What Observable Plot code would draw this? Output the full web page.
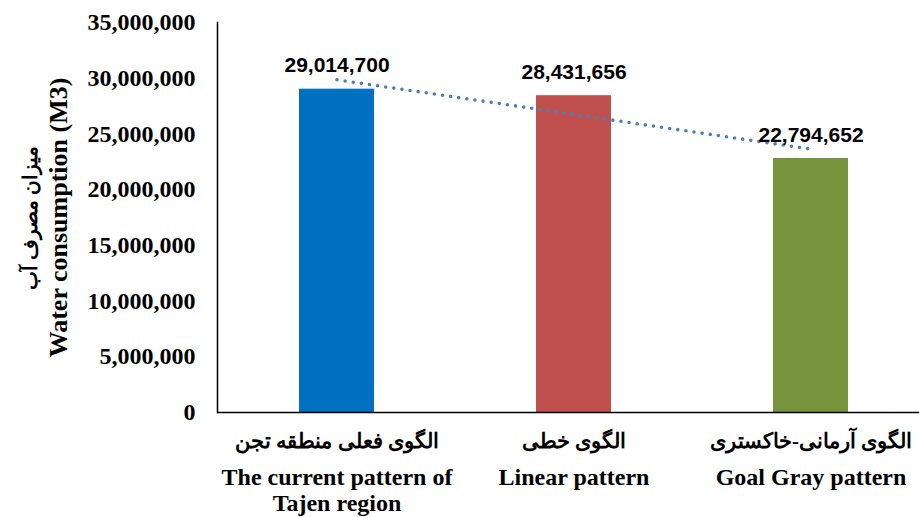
<!DOCTYPE html>
<html><head><meta charset="utf-8">
<script src="https://cdn.jsdelivr.net/npm/d3@7"></script>
<script src="https://cdn.jsdelivr.net/npm/@observablehq/plot@0.6"></script>
<style>body{margin:0;background:#fff} svg{overflow:visible}</style>
</head><body><div id="chart"></div>
<script>
const categoriesEn = ["The current pattern of\nTajen region", "Linear pattern", "Goal Gray pattern"];
const categoriesFa = ["الگوی فعلی منطقه تجن", "الگوی خطی", "الگوی آرمانی-خاکستری"];
const values = [29014700, 28431656, 22794652];
const barColors = ["#0070C0", "#C0504D", "#77933C"];
const yTicks = [0, 5000000, 10000000, 15000000, 20000000, 25000000, 30000000, 35000000];
const yTitleFa = "میزان مصرف آب";
const yTitleEn = "Water consumption (M3)";

const data = categoriesEn.map((en, i) => ({en, fa: categoriesFa[i], value: values[i], idx: i + 1}));
// linear trendline (least squares over category index)
const mx = d3.mean(data, d => d.idx), my = d3.mean(data, d => d.value);
const slope = d3.sum(data, d => (d.idx - mx) * (d.value - my)) / d3.sum(data, d => (d.idx - mx) ** 2);
const trend = data.map(d => ({en: d.en, value: my + slope * (d.idx - mx)}));

const serif = "'Liberation Serif', 'Times New Roman', 'DejaVu Serif', serif";
const sans = "'Liberation Sans', Arial, sans-serif";
const fmt = d3.format(",");

const chart = Plot.plot({
  width: 919,
  height: 517,
  marginLeft: 217,
  marginRight: 0,
  marginTop: 22,
  marginBottom: 105,
  style: {fontFamily: serif, fontSize: "23px", fontWeight: "bold", color: "black", background: "white", overflow: "visible"},
  x: {domain: categoriesEn, range: [217, 929.5], paddingInner: 0.684, paddingOuter: 0.342, axis: null},
  y: {domain: [0, 35000000], axis: null},
  color: {domain: categoriesEn, range: barColors},
  marks: [
    Plot.barY(data, {x: "en", y: "value", fill: "en"}),
    Plot.ruleY([0], {stroke: "black", strokeWidth: 1.5}),
    Plot.frame({anchor: "left", stroke: "black", strokeWidth: 1.5}),
    Plot.axisY({ticks: yTicks, label: null, tickSize: 0, tickPadding: 22, tickFormat: fmt, fontSize: 24, fontWeight: "bold", fontFamily: serif}),
    Plot.line(trend, {x: "en", y: "value", stroke: "#4a7ebb", strokeWidth: 3.6, strokeDasharray: "0,8.2", strokeLinecap: "round"}),
    Plot.text(data, {x: "en", y: "value", text: d => fmt(d.value), lineAnchor: "bottom", dy: -17, fontFamily: sans, fontSize: 21, fontWeight: "bold"}),
    Plot.text(data, {x: "en", text: "fa", frameAnchor: "bottom", lineAnchor: "middle", dy: 29, fontFamily: serif, fontSize: 21, fontWeight: "bold"}),
    Plot.text(data, {x: "en", text: "en", frameAnchor: "bottom", lineAnchor: "top", dy: 54, lineHeight: 1.08, fontFamily: serif, fontSize: 24, fontWeight: "bold"}),
    Plot.text([yTitleFa], {text: d => d, frameAnchor: "left", textAnchor: "middle", rotate: -90, dx: -187, lineAnchor: "middle", fontFamily: serif, fontSize: 20, fontWeight: "bold"}),
    Plot.text([yTitleEn], {text: d => d, frameAnchor: "left", textAnchor: "middle", rotate: -90, dx: -159, lineAnchor: "middle", fontFamily: serif, fontSize: 26, fontWeight: "bold"})
  ]
});
document.getElementById("chart").appendChild(chart);
</script>
</body></html>
